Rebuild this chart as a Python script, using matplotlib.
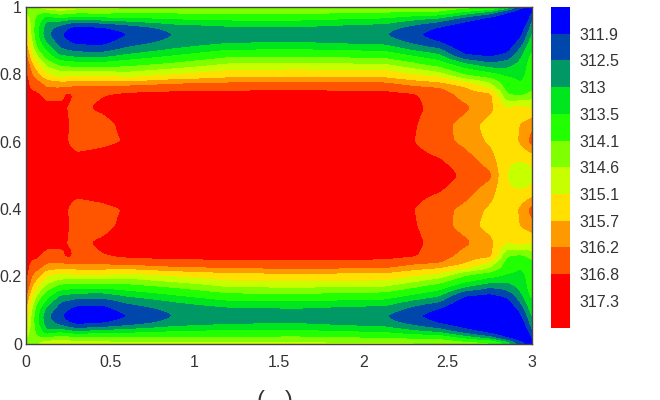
import numpy as np
import matplotlib
matplotlib.use("Agg")
import matplotlib.pyplot as plt

plt.rcParams['font.family'] = ['Liberation Sans', 'DejaVu Sans']

levels = [311.9, 312.5, 313, 313.5, 314.1, 314.6, 315.1, 315.7, 316.2, 316.8, 317.3]
colors = ['#0000ff', '#0047ab', '#009966', '#00e61e', '#22ff00', '#80ff00',
          '#c8ff00', '#ffe000', '#ff9900', '#ff5500', '#ff0000', '#ff0000']

y_lower = [0, .015, .035, .06, .083, .107, .125, .145, .165, .187, .208, .222, .24, .26, .3, .35, .4, .45, .5]

x0_00 = [314.4, 314.6, 314.9, 315.2, 315.5, 315.8, 316.1, 316.4, 316.7, 316.9, 317.0, 317.1, 317.1, 317.3, 317.5, 317.5, 317.5, 317.5, 317.5]
x0_03 = [314.4, 314.3, 314.4, 314.55, 314.55, 314.75, 315.0, 315.3, 315.7, 316.1, 316.3, 316.45, 316.65, 317.0, 317.4, 317.5, 317.5, 317.5, 317.5]
x0_07 = [314.6, 314.2, 313.9, 313.5, 313.5, 313.75, 314.05, 314.5, 315.0, 315.5, 316.0, 316.25, 316.6, 316.85, 317.3, 317.4, 317.5, 317.5, 317.5]
x0_12 = [314.9, 314.2, 313.05, 312.75, 312.65, 312.95, 313.4, 313.8, 314.35, 314.85, 315.3, 315.9, 316.2, 316.55, 317.0, 317.3, 317.4, 317.5, 317.5]
x0_20 = [314.9, 314.5, 313.3, 312.3, 312.0, 312.3, 312.55, 313.0, 313.7, 314.5, 315.0, 315.7, 316.2, 316.55, 317.0, 317.2, 317.3, 317.4, 317.5]
x0_25 = [314.85, 314.4, 313.15, 311.95, 311.6, 312.0, 312.4, 312.95, 313.6, 314.45, 315.1, 315.7, 316.25, 316.95, 316.75, 316.8, 316.75, 317.1, 317.4]
x0_30 = [314.8, 314.3, 313.0, 311.7, 311.3, 311.75, 312.25, 312.85, 313.5, 314.4, 315.2, 315.75, 316.3, 316.6, 316.65, 316.55, 316.5, 316.95, 317.3]
x0_45 = [314.8, 314.3, 313.2, 311.85, 311.4, 311.7, 312.2, 312.8, 313.5, 314.4, 315.2, 315.75, 316.3, 316.75, 316.9, 316.55, 316.6, 317.1, 317.4]
x0_60 = [314.7, 314.2, 313.3, 312.2, 311.85, 312.25, 312.6, 313.1, 313.7, 314.4, 315.0, 315.7, 316.4, 316.9, 317.2, 317.0, 316.85, 317.3, 317.5]
x0_88 = [314.7, 314.2, 313.5, 312.7, 312.5, 312.7, 313.0, 313.5, 314.05, 314.7, 315.3, 316.0, 316.5, 317.0, 317.5, 317.6, 317.6, 317.6, 317.6]
x1_20 = [314.7, 314.2, 313.6, 312.9, 312.7, 312.95, 313.4, 313.95, 314.5, 315.05, 315.6, 316.1, 316.6, 317.0, 317.6, 317.6, 317.6, 317.6, 317.6]
x1_60 = [314.7, 314.25, 313.6, 312.95, 312.8, 313.0, 313.45, 314.0, 314.55, 315.1, 315.65, 316.2, 316.65, 317.0, 317.6, 317.6, 317.6, 317.6, 317.6]
x2_13 = [314.7, 314.1, 313.4, 312.7, 312.5, 312.85, 313.3, 313.85, 314.45, 315.05, 315.6, 316.1, 316.6, 316.95, 317.4, 317.3, 317.3, 317.5, 317.5]
x2_30 = [314.7, 314.0, 313.1, 312.3, 312.0, 312.4, 312.85, 313.45, 314.05, 314.7, 315.3, 315.8, 316.3, 316.85, 316.95, 316.85, 316.8, 317.0, 317.2]
x2_45 = [314.6, 314.0, 312.85, 311.85, 311.5, 311.95, 312.55, 313.1, 313.65, 314.35, 315.05, 315.6, 316.2, 316.45, 316.55, 316.4, 316.4, 316.8, 317.15]
x2_60 = [314.4, 313.4, 312.2, 311.4, 311.1, 311.2, 311.5, 312.0, 312.9, 313.65, 314.3, 315.05, 315.75, 316.0, 316.3, 316.0, 316.05, 316.4, 316.65]
x2_75 = [314.3, 312.8, 311.6, 311.2, 311.0, 311.0, 311.2, 311.8, 312.45, 313.2, 313.9, 314.5, 314.9, 315.85, 315.85, 315.45, 315.6, 315.9, 316.3]
x2_85 = [313.5, 311.9, 311.3, 311.1, 311.1, 311.3, 311.6, 312.1, 312.65, 313.1, 313.5, 313.75, 313.9, 314.1, 315.1, 315.3, 315.3, 315.2, 315.1]
x2_93 = [312.2, 311.4, 311.3, 311.4, 311.7, 312.15, 312.55, 312.85, 313.1, 313.25, 313.4, 313.47, 313.65, 313.95, 315.3, 315.7, 315.75, 315.2, 314.55]
x2_98 = [311.7, 311.4, 311.7, 312.25, 312.7, 313.0, 313.25, 313.45, 313.55, 313.6, 313.6, 313.65, 313.85, 314.15, 315.1, 315.9, 316.2, 315.3, 314.6]
x3_00 = [311.7, 311.9, 312.5, 312.9, 313.1, 313.3, 313.45, 313.6, 313.7, 313.75, 313.75, 313.75, 313.95, 314.3, 315.15, 316.1, 316.4, 315.4, 314.9]

x_grid = [0, .03, .07, .12, .2, .25, .3, .45, .6, .88, 1.2, 1.6, 2.13, 2.3, 2.45, 2.6, 2.75, 2.85, 2.93, 2.98, 3]
lower = np.array([x0_00, x0_03, x0_07, x0_12, x0_20, x0_25, x0_30, x0_45, x0_60, x0_88, x1_20,
                  x1_60, x2_13, x2_30, x2_45, x2_60, x2_75, x2_85, x2_93, x2_98, x3_00]).T

# the field in the picture is mirrored about y = 0.5
field = np.vstack([lower, lower[-2::-1]])
y_grid = np.array(y_lower + [1 - v for v in y_lower[-2::-1]])

# resample onto a fine grid and soften the corners of the read-off table
fx = np.linspace(0, 3, 607)
fy = np.linspace(0, 1, 405)
fine = np.array([np.interp(fx, x_grid, row) for row in field])
fine = np.array([np.interp(fy, y_grid, col) for col in fine.T]).T
r = 6
kernel = np.exp(-0.5 * (np.arange(-r, r + 1) / 2.2) ** 2)
kernel /= kernel.sum()
fine = np.array([np.convolve(np.pad(row, r, mode='edge'), kernel, 'valid') for row in fine])
fine = np.array([np.convolve(np.pad(col, r, mode='edge'), kernel, 'valid') for col in fine.T]).T

W, H = 660, 400
fig = plt.figure(figsize=(W / 100, H / 100), dpi=100)
ax = fig.add_axes([26 / W, 1 - 343.5 / H, (532 - 26) / W, (343.5 - 7) / H])
bounds = [305] + levels + [325]
cf = ax.contourf(fx, fy, fine, levels=bounds, colors=colors)
ax.set_xlim(0, 3)
ax.set_ylim(0, 1)
ax.set_xticks([0, .5, 1, 1.5, 2, 2.5, 3])
ax.set_xticklabels(['0', '0.5', '1', '1.5', '2', '2.5', '3'])
ax.set_yticks([0, .2, .4, .6, .8, 1])
ax.set_yticklabels(['0', '0.2', '0.4', '0.6', '0.8', '1'])
ax.tick_params(length=0, labelsize=11.5, labelcolor='#333333')
ax.tick_params(axis='x', pad=8)
ax.tick_params(axis='y', pad=3)
for s in ax.spines.values():
    s.set_color('#444444')
    s.set_linewidth(1.0)

cax = fig.add_axes([551 / W, 1 - 327.5 / H, 19 / W, (327.5 - 7) / H])
cb = fig.colorbar(cf, cax=cax, spacing='uniform', ticks=levels)
cb.ax.invert_yaxis()
cb.set_ticklabels([str(v) for v in levels])
cb.ax.tick_params(length=0, labelsize=11.5, labelcolor='#333333', pad=6.5)
cb.outline.set_visible(False)

fig.text(274.5 / W, 1 - 390 / H, '(   )', ha='center', va='top', fontsize=17, color='#333333')
fig.savefig('out.png', dpi=100)
